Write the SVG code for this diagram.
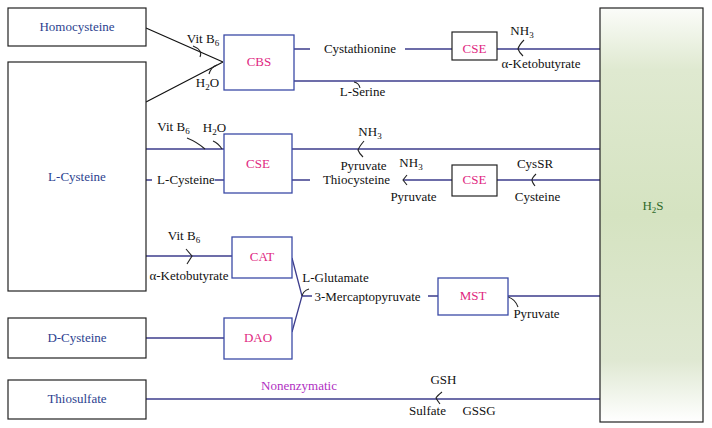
<svg xmlns="http://www.w3.org/2000/svg" width="712" height="428" viewBox="0 0 712 428" font-family="'Liberation Serif', 'DejaVu Serif', serif">
<style>
text{font-family:'Liberation Serif','DejaVu Serif',serif;font-size:13px;fill:#111;text-anchor:middle}
.sub{font-size:9px}
.src{fill:#fff;stroke:#222;stroke-width:1.2}
.enz{fill:#fff;stroke:#3b4aa6;stroke-width:1.3}
.enzk{fill:#fff;stroke:#222;stroke-width:1.2}
.nl{fill:#2c3f8f}
.el{fill:#e0287f}
.ln{fill:none;stroke:#3d3d8c;stroke-width:1.3}
.lk{fill:none;stroke:#111;stroke-width:1.2}
.hk{fill:none;stroke:#222;stroke-width:1.1}
</style>
<defs>
<linearGradient id="g" x1="0" y1="0" x2="0" y2="1">
<stop offset="0" stop-color="#fbfcf9"/>
<stop offset="0.15" stop-color="#dfe9d0"/>
<stop offset="0.5" stop-color="#d5e3c1"/>
<stop offset="0.85" stop-color="#dfe8d2"/>
<stop offset="1" stop-color="#ffffff"/>
</linearGradient>
</defs>

<g id="connectors">
<path class="lk" d="M146,28 L223,62 M146,102 L223,62"/>
<path class="ln" d="M294,49 H310 M405,49 H452 M497,49 H600"/>
<path class="ln" d="M294,81 H600"/>
<path class="ln" d="M146,149 H224 M292,149 H600"/>
<path class="ln" d="M146,180 H152 M215,180 H224 M292,180 H310 M403,180 H452 M497,180 H600"/>
<path class="ln" d="M146,256 H232"/>
<path class="ln" d="M146,338 H224"/>
<path class="ln" d="M292,258 L302,296 L292,332 M302,296 H312 M428,296 H438 M508,296 H600"/>
<path class="ln" d="M146,399 H600"/>
<path class="hk" d="M193,46 Q203,50 200,57"/>
<path class="hk" d="M209,74 Q211,67 217,65"/>
<path class="hk" d="M354,82 Q359,83 360,88"/>
<path class="hk" d="M524,40 Q519,45 518,49 Q519,52 523,56"/>
<path class="hk" d="M187,138 Q197,142 205,149"/>
<path class="hk" d="M213,141 Q218,143 222,149"/>
<path class="hk" d="M364,141 Q359,147 358,150 Q359,153 363,157"/>
<path class="hk" d="M407,175 L403,180 L407,185"/>
<path class="hk" d="M536,174 Q532,178 532,180 Q532,182 535,186"/>
<path class="hk" d="M186,249 L192,256 L187,264"/>
<path class="hk" d="M309,289 Q303,291 302,296"/>
<path class="hk" d="M508,297 Q515,299 518,307"/>
<path class="hk" d="M442,392 Q437,396 436,398 Q437,400 440,404"/>
</g>

<g id="homocysteine"><rect class="src" x="8" y="8" width="138" height="38"/><text class="nl" x="77" y="31">Homocysteine</text></g>
<g id="l-cysteine"><rect class="src" x="8" y="62" width="138" height="229"/><text class="nl" x="77" y="181">L-Cysteine</text></g>
<g id="d-cysteine"><rect class="src" x="8" y="318" width="138" height="40"/><text class="nl" x="77" y="342">D-Cysteine</text></g>
<g id="thiosulfate"><rect class="src" x="8" y="380" width="138" height="39"/><text class="nl" x="77" y="403">Thiosulfate</text></g>
<g id="h2s"><rect x="600" y="8" width="103" height="414" fill="url(#g)" stroke="#222" stroke-width="1.2"/><text x="653" y="210" style="fill:#2f6a2a">H<tspan class="sub" dy="3">2</tspan><tspan dy="-3">S</tspan></text></g>

<g id="cbs"><rect class="enz" x="224" y="35" width="70" height="55"/><text class="el" x="259" y="66">CBS</text></g>
<g id="cse1"><rect class="enzk" x="452" y="32" width="45" height="28"/><text class="el" x="474.5" y="53">CSE</text></g>
<g id="cse2"><rect class="enz" x="224" y="134" width="68" height="59"/><text class="el" x="258" y="168">CSE</text></g>
<g id="cse3"><rect class="enzk" x="452" y="165" width="45" height="31"/><text class="el" x="474.5" y="184">CSE</text></g>
<g id="cat"><rect class="enz" x="232" y="237" width="60" height="41"/><text class="el" x="262" y="261">CAT</text></g>
<g id="dao"><rect class="enz" x="224" y="318" width="68" height="41"/><text class="el" x="258" y="342">DAO</text></g>
<g id="mst"><rect class="enz" x="438" y="278" width="70" height="37"/><text class="el" x="473" y="300">MST</text></g>

<g id="labels">
<text x="203" y="43">Vit B<tspan class="sub" dy="3">6</tspan></text>
<text x="207.5" y="87">H<tspan class="sub" dy="3">2</tspan><tspan dy="-3">O</tspan></text>
<text x="360" y="53">Cystathionine</text>
<text x="362.5" y="96">L-Serine</text>
<text x="522" y="35">NH<tspan class="sub" dy="3">3</tspan></text>
<text x="541" y="68">α-Ketobutyrate</text>
<text x="173.5" y="131">Vit B<tspan class="sub" dy="3">6</tspan></text>
<text x="214.5" y="132">H<tspan class="sub" dy="3">2</tspan><tspan dy="-3">O</tspan></text>
<text x="370" y="136">NH<tspan class="sub" dy="3">3</tspan></text>
<text x="363.5" y="170">Pyruvate</text>
<text x="186" y="184">L-Cysteine</text>
<text x="356.5" y="184">Thiocysteine</text>
<text x="411" y="167">NH<tspan class="sub" dy="3">3</tspan></text>
<text x="413.5" y="201">Pyruvate</text>
<text x="535" y="168">CysSR</text>
<text x="537.5" y="201">Cysteine</text>
<text x="184" y="240">Vit B<tspan class="sub" dy="3">6</tspan></text>
<text x="189" y="280">α-Ketobutyrate</text>
<text x="335.5" y="282">L-Glutamate</text>
<text x="367.5" y="301">3-Mercaptopyruvate</text>
<text x="536.5" y="318">Pyruvate</text>
<text x="299" y="390" style="fill:#b02fc2">Nonenzymatic</text>
<text x="443.5" y="384">GSH</text>
<text x="427.5" y="415">Sulfate</text>
<text x="479" y="415">GSSG</text>
</g>
</svg>
